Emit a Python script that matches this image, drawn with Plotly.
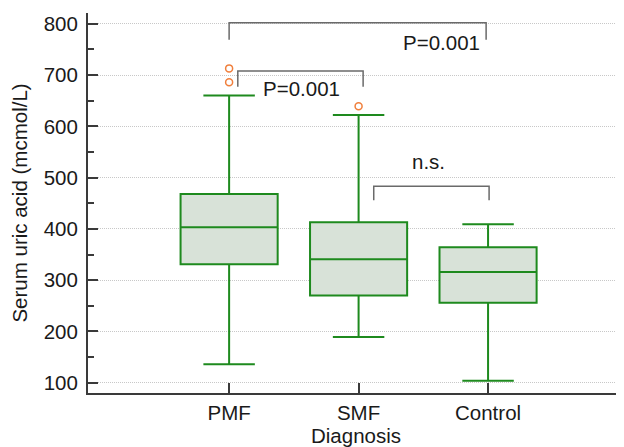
import plotly.graph_objects as go

# ---- data ----
categories = ["PMF", "SMF", "Control"]
q1_vals = [331, 270, 256]
median_vals = [403, 341, 316]
q3_vals = [468, 413, 364]
lower_whisker = [136, 189, 104]
upper_whisker = [660, 622, 409]

outlier_x = ["PMF", "PMF", "SMF"]
outlier_y = [713, 686, 639]

# brackets: (left x index, right x index, top y, leg bottom y)
bracket_left = [0.0, 0.067, 1.117]
bracket_right = [1.985, 1.035, 2.008]
bracket_top = [802, 708, 483]
bracket_bottom = [769, 677, 456]

label_text = ["P=0.001", "P=0.001", "n.s."]
label_x = [1.955, 0.25, 1.537]
label_y = [763, 673, 531]
label_anchor = ["right", "left", "center"]

y_ticks = [100, 200, 300, 400, 500, 600, 700, 800]

GREEN = "#1e8a1e"
FILL = "#d8e2d8"
ORANGE = "#f07f3c"
AXIS = "#3a3a3a"
TXT = "#1a1a1a"
FONT = "Liberation Sans, Arial, sans-serif"

fig = go.Figure()

fig.add_trace(go.Box(
    x=categories,
    q1=q1_vals,
    median=median_vals,
    q3=q3_vals,
    lowerfence=lower_whisker,
    upperfence=upper_whisker,
    fillcolor=FILL,
    line=dict(color=GREEN, width=2),
    width=0.75,
    whiskerwidth=0.53,
    boxpoints=False,
    showlegend=False,
    hoverinfo="skip",
))

fig.add_trace(go.Scatter(
    x=outlier_x,
    y=outlier_y,
    mode="markers",
    marker=dict(symbol="circle-open", size=7, color=ORANGE, line=dict(width=1.5, color=ORANGE)),
    showlegend=False,
    hoverinfo="skip",
))

for xl, xr, yt, yb in zip(bracket_left, bracket_right, bracket_top, bracket_bottom):
    fig.add_shape(
        type="path",
        path=f"M {xl},{yb} L {xl},{yt} L {xr},{yt} L {xr},{yb}",
        xref="x", yref="y",
        line=dict(color="#6a6a6a", width=1.5),
    )

for t, xx, yy, anc in zip(label_text, label_x, label_y, label_anchor):
    fig.add_annotation(
        x=xx, y=yy, text=t, showarrow=False,
        xref="x", yref="y", xanchor=anc, yanchor="middle",
        font=dict(size=20.5, color=TXT, family=FONT),
    )

# the page body has an 8px margin, so the figure margins are offset to compensate
fig.update_layout(
    width=624, height=447,
    margin=dict(l=80, r=8, t=5, b=62, autoexpand=False),
    paper_bgcolor="white",
    plot_bgcolor="white",
    font=dict(family=FONT, color=TXT),
)

fig.update_xaxes(
    type="category",
    categoryorder="array",
    categoryarray=categories,
    range=[-1.09, 3.05],
    automargin=False,
    showline=True, linecolor=AXIS, linewidth=2,
    ticks="inside", ticklen=10, tickwidth=2, tickcolor=AXIS,
    showgrid=False, zeroline=False,
    tickfont=dict(size=20.5, family=FONT, color=TXT),
    title=dict(text="Diagnosis", font=dict(size=20.5, family=FONT, color=TXT), standoff=5),
)

fig.update_yaxes(
    range=[80, 821],
    tickvals=y_ticks,
    automargin=False,
    showline=True, linecolor=AXIS, linewidth=2,
    ticks="inside", ticklen=10, tickwidth=2, tickcolor=AXIS,
    ticklabelstandoff=4,
    minor=dict(dtick=50, tick0=0, ticks="inside", ticklen=6, tickwidth=1.5, tickcolor=AXIS, showgrid=False),
    showgrid=True, gridcolor="#c8c8c8", gridwidth=1, griddash="1px,1px",
    zeroline=False,
    tickfont=dict(size=20.5, family=FONT, color=TXT),
    title=dict(text="Serum uric acid (mcmol/L)", font=dict(size=20.5, family=FONT, color=TXT), standoff=11),
)

fig.write_html("out.html")
